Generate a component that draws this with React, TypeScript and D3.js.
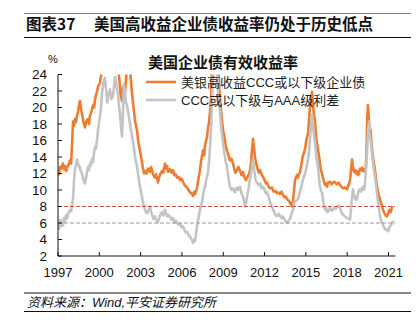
import React from "react";
import * as d3 from "d3";

const yearTicks = [1997, 2000, 2003, 2006, 2009, 2012, 2015, 2018, 2021];
const valueTicks = [2, 4, 6, 8, 10, 12, 14, 16, 18, 20, 22, 24];
const seriesNames = ["美银高收益CCC或以下级企业债", "CCC或以下级与AAA级利差"];
const refLevels = [8, 6];

const cccDates = [1997.00,1997.08,1997.15,1997.25,1997.36,1997.45,1997.51,1997.60,1997.65,1997.75,1997.87,1997.95,1998.02,1998.09,1998.16,1998.23,1998.30,1998.38,1998.47,1998.55,1998.60,1998.67,1998.74,1998.85,1998.96,1999.05,1999.18,1999.25,1999.32,1999.40,1999.47,1999.55,1999.62,1999.69,1999.76,1999.83,1999.92,2000.05,2000.12,2000.20,2000.41,2000.63,2000.78,2000.99,2001.14,2001.25,2001.36,2001.45,2001.55,2001.65,2001.72,2001.79,2001.88,2001.94,2002.02,2002.10,2002.23,2002.30,2002.37,2002.45,2002.52,2002.60,2002.67,2002.74,2002.85,2002.95,2003.06,2003.17,2003.25,2003.32,2003.43,2003.54,2003.62,2003.68,2003.76,2003.83,2003.92,2004.04,2004.12,2004.26,2004.35,2004.45,2004.55,2004.65,2004.77,2004.85,2004.92,2004.99,2005.13,2005.25,2005.35,2005.45,2005.55,2005.64,2005.75,2005.86,2005.97,2006.08,2006.20,2006.37,2006.48,2006.59,2006.70,2006.80,2006.90,2006.95,2007.09,2007.20,2007.31,2007.40,2007.53,2007.62,2007.68,2007.82,2007.89,2007.97,2008.04,2008.12,2008.18,2008.30,2008.45,2008.58,2008.66,2008.72,2008.80,2008.90,2008.98,2009.08,2009.18,2009.27,2009.38,2009.49,2009.60,2009.71,2009.80,2009.88,2010.00,2010.10,2010.22,2010.32,2010.43,2010.52,2010.58,2010.66,2010.73,2010.85,2010.94,2011.03,2011.10,2011.16,2011.24,2011.32,2011.40,2011.45,2011.58,2011.67,2011.78,2011.89,2012.00,2012.10,2012.18,2012.30,2012.40,2012.54,2012.65,2012.78,2012.90,2013.02,2013.12,2013.23,2013.34,2013.45,2013.54,2013.63,2013.75,2013.85,2013.93,2013.99,2014.07,2014.14,2014.21,2014.30,2014.36,2014.43,2014.50,2014.57,2014.66,2014.79,2014.87,2014.94,2015.05,2015.16,2015.25,2015.35,2015.45,2015.52,2015.60,2015.66,2015.76,2015.88,2015.98,2016.08,2016.17,2016.28,2016.39,2016.47,2016.54,2016.61,2016.75,2016.87,2016.97,2017.08,2017.18,2017.26,2017.38,2017.48,2017.58,2017.70,2017.84,2017.99,2018.10,2018.21,2018.30,2018.35,2018.42,2018.50,2018.57,2018.64,2018.71,2018.79,2018.86,2018.93,2019.00,2019.08,2019.15,2019.22,2019.29,2019.35,2019.40,2019.45,2019.51,2019.56,2019.62,2019.70,2019.80,2019.90,2020.02,2020.12,2020.24,2020.35,2020.45,2020.53,2020.60,2020.70,2020.80,2020.89,2020.98,2021.06,2021.15,2021.25,2021.33];
const cccYield = [12.4,11.9,12.8,12.6,13.2,12.5,12.9,12.3,12.7,13.0,13.6,13.2,15.5,18.3,17.8,18.6,18.2,19.0,19.6,20.5,20.8,19.8,19.3,18.2,17.6,18.3,18.6,18.0,19.0,19.3,19.8,20.3,20.0,21.0,21.5,21.9,22.6,23.0,23.8,25.0,26.5,27.0,26.0,25.5,24.6,24.3,24.8,23.5,21.5,20.8,22.5,21.2,22.0,23.5,24.8,25.5,24.6,23.2,21.8,20.5,19.6,18.3,17.8,17.2,15.6,14.8,13.8,12.6,12.0,12.3,12.0,12.6,12.4,12.2,12.8,12.4,11.8,11.5,11.9,10.9,11.6,12.0,12.3,12.1,13.2,12.6,12.9,12.2,12.5,12.1,12.4,11.8,11.9,11.5,11.6,11.2,11.4,11.0,10.6,10.3,10.0,9.7,9.6,9.3,9.8,9.5,10.2,11.4,12.4,13.6,14.8,14.2,15.5,16.4,17.5,18.2,19.5,21.5,24.5,30.0,32.0,28.0,24.5,22.0,20.3,18.5,17.3,16.5,15.4,14.8,14.2,13.6,13.8,13.2,12.6,12.1,12.4,12.8,12.3,11.8,12.2,11.6,11.4,11.2,11.5,11.9,12.3,13.6,15.0,16.2,15.0,13.8,13.2,12.8,12.1,12.4,11.9,11.6,11.2,10.8,10.9,10.4,10.2,10.3,9.8,9.9,9.6,9.7,9.5,9.8,9.4,9.1,9.2,8.9,8.7,8.5,8.2,8.0,8.7,10.0,11.2,11.6,11.8,11.5,12.0,12.1,13.0,14.2,14.5,15.0,16.2,16.9,19.0,21.0,21.9,20.2,19.0,18.5,16.2,14.9,13.8,12.5,12.0,11.2,10.6,10.8,10.4,10.9,11.0,10.7,10.9,11.0,10.8,10.7,10.9,10.6,10.4,10.2,10.3,10.1,10.6,11.2,12.8,13.7,12.8,12.2,12.4,12.0,12.3,11.8,12.0,12.6,12.4,12.7,12.3,12.5,12.2,12.6,14.5,18.5,20.3,19.0,17.6,17.2,15.0,13.7,12.4,10.9,9.8,9.0,8.5,8.0,7.6,7.2,6.9,6.8,7.2,7.6,7.3,7.9,8.0];

const spreadDates = [1997.00,1997.08,1997.15,1997.22,1997.30,1997.36,1997.45,1997.51,1997.60,1997.68,1997.75,1997.87,1997.95,1998.02,1998.09,1998.16,1998.23,1998.30,1998.38,1998.45,1998.55,1998.64,1998.74,1998.85,1998.96,1999.05,1999.18,1999.25,1999.32,1999.40,1999.47,1999.55,1999.62,1999.69,1999.76,1999.83,1999.92,2000.05,2000.12,2000.20,2000.30,2000.41,2000.50,2000.58,2000.66,2000.78,2000.88,2000.99,2001.07,2001.14,2001.22,2001.30,2001.36,2001.44,2001.50,2001.58,2001.65,2001.72,2001.79,2001.86,2001.94,2002.02,2002.10,2002.23,2002.30,2002.37,2002.45,2002.52,2002.60,2002.67,2002.74,2002.85,2002.95,2003.06,2003.17,2003.25,2003.32,2003.43,2003.54,2003.62,2003.68,2003.76,2003.83,2003.92,2004.04,2004.12,2004.26,2004.35,2004.45,2004.55,2004.65,2004.77,2004.85,2004.92,2004.99,2005.13,2005.25,2005.35,2005.45,2005.55,2005.64,2005.75,2005.86,2005.97,2006.08,2006.20,2006.30,2006.40,2006.48,2006.59,2006.68,2006.75,2006.80,2006.88,2006.95,2007.02,2007.09,2007.20,2007.31,2007.40,2007.47,2007.53,2007.60,2007.68,2007.75,2007.82,2007.89,2007.97,2008.04,2008.12,2008.18,2008.26,2008.35,2008.45,2008.55,2008.62,2008.70,2008.76,2008.85,2008.98,2009.08,2009.18,2009.27,2009.38,2009.49,2009.60,2009.71,2009.85,2009.93,2010.00,2010.10,2010.22,2010.32,2010.43,2010.52,2010.58,2010.66,2010.73,2010.85,2010.94,2011.05,2011.16,2011.25,2011.35,2011.45,2011.58,2011.67,2011.78,2011.89,2012.00,2012.10,2012.18,2012.30,2012.40,2012.54,2012.65,2012.78,2012.90,2013.02,2013.12,2013.23,2013.34,2013.45,2013.54,2013.63,2013.75,2013.85,2013.93,2013.99,2014.07,2014.14,2014.21,2014.30,2014.43,2014.57,2014.66,2014.79,2014.94,2015.05,2015.16,2015.25,2015.35,2015.45,2015.52,2015.60,2015.66,2015.76,2015.88,2015.98,2016.08,2016.17,2016.28,2016.39,2016.47,2016.54,2016.61,2016.75,2016.87,2016.97,2017.08,2017.18,2017.26,2017.38,2017.48,2017.58,2017.70,2017.84,2017.99,2018.10,2018.21,2018.30,2018.42,2018.50,2018.57,2018.64,2018.71,2018.79,2018.86,2018.93,2019.00,2019.08,2019.15,2019.22,2019.29,2019.36,2019.44,2019.51,2019.58,2019.65,2019.72,2019.80,2019.90,2020.02,2020.12,2020.24,2020.35,2020.45,2020.53,2020.60,2020.70,2020.80,2020.89,2020.98,2021.06,2021.11,2021.20,2021.28,2021.33];
const spreadValues = [6.0,5.3,6.4,5.6,6.3,5.7,6.6,6.2,7.0,6.6,7.2,7.6,7.4,8.2,8.9,11.0,12.6,12.9,13.7,13.2,12.9,12.3,12.0,11.2,10.8,11.6,12.8,12.4,13.2,13.0,13.8,13.4,14.6,15.2,15.0,16.0,17.5,18.9,20.0,21.8,23.0,23.6,22.0,20.6,21.5,22.2,21.0,21.4,22.6,23.7,23.0,22.0,21.5,20.0,19.2,17.6,16.5,19.5,22.8,22.0,20.6,20.2,19.4,18.0,17.2,16.6,15.8,15.0,14.0,13.4,12.8,11.5,10.4,9.5,8.5,8.0,7.6,7.2,7.3,7.8,8.0,7.4,7.0,6.5,6.8,6.4,6.1,6.6,7.1,7.3,6.9,7.6,7.2,6.8,7.0,6.8,6.4,6.6,6.1,6.3,6.0,5.8,5.9,5.5,5.6,5.1,4.8,4.9,4.5,4.4,4.0,3.9,3.6,4.0,3.8,4.6,5.6,6.6,7.6,8.2,8.6,9.4,10.0,10.4,11.2,11.6,12.1,13.5,15.2,17.7,20.5,24.0,27.0,28.0,25.0,22.0,20.5,19.6,17.6,15.8,14.5,13.4,12.8,11.5,10.4,10.0,10.2,9.7,10.1,10.3,10.0,10.4,9.6,9.2,8.6,8.0,8.4,9.2,10.2,11.3,12.4,13.7,12.4,11.2,10.9,10.6,10.8,10.2,10.4,10.0,9.6,9.7,9.2,8.5,8.0,7.5,7.0,6.8,7.1,6.9,6.6,6.8,6.4,6.2,6.0,6.3,6.5,7.0,7.3,7.6,8.4,8.6,8.7,8.9,9.8,10.4,11.3,12.0,12.8,13.7,15.0,17.2,19.2,17.8,16.5,15.8,14.0,12.8,11.0,10.0,9.7,8.4,7.6,7.8,7.3,7.4,7.8,7.5,7.6,7.9,7.7,8.0,8.1,7.8,7.3,7.0,6.8,6.6,6.5,6.4,8.2,10.1,9.4,9.0,8.8,8.9,9.6,10.0,10.1,9.8,10.2,10.4,10.0,10.6,12.5,14.5,17.0,18.3,16.5,15.8,14.5,13.0,11.6,10.2,8.5,7.2,6.4,6.0,5.8,5.4,5.2,5.3,5.0,5.4,5.6,5.8,6.0,6.3];

const W = 419;
const H = 332;
const FONT = "'Liberation Sans', Arial, 'Noto Sans CJK SC', sans-serif";
const CJK = "'Noto Sans CJK SC', 'Liberation Sans', sans-serif";
const ORANGE = "#EE7D31";
const GRAY = "#C4C4C4";

export default function App() {
  const x = d3.scaleLinear().domain([1997, 2021]).range([58, 388.5]);
  const y = d3.scaleLinear().domain([2, 24]).range([256, 74.5]);
  const xEnd = x(2021.35);

  const line = d3
    .line<[number, number]>()
    .x((d) => x(d[0]))
    .y((d) => y(d[1]));

  const cccPts = cccDates.map((d, i) => [d, cccYield[i]] as [number, number]);
  const spreadPts = spreadDates.map((d, i) => [d, spreadValues[i]] as [number, number]);

  return (
    <svg
      width={W}
      height={H}
      style={{ position: "absolute", left: 0, top: 0, background: "#fff" }}
      fontFamily={FONT}
    >
      <defs>
        <clipPath id="plotClip">
          <rect x={x(1997)} y={y(24)} width={xEnd - x(1997) + 3} height={y(2) - y(24)} />
        </clipPath>
      </defs>
      <rect width={W} height={H} fill="#fff" />

      {/* header */}
      <line x1={24} x2={411} y1={13.5} y2={13.5} stroke="#555" strokeWidth={0.8} />
      <text x={26} y={30} fontFamily={CJK} fontWeight="bold" fontSize={15.5} fill="#111">
        图表37
      </text>
      <text x={94} y={30} fontFamily={CJK} fontWeight="bold" fontSize={15.5} fill="#111">
        美国高收益企业债收益率仍处于历史低点
      </text>
      <line x1={24} x2={411} y1={37.5} y2={37.5} stroke="#111" strokeWidth={1.2} />

      {/* chart title */}
      <text x={223} y={68} textAnchor="middle" fontFamily={CJK} fontWeight="bold" fontSize={15} fill="#111">
        美国企业债有效收益率
      </text>
      <text x={53} y={63} textAnchor="middle" fontSize={11} fill="#111">
        %
      </text>

      {/* lines */}
      <g clipPath="url(#plotClip)">
        <path d={line(cccPts) || ""} fill="none" stroke={ORANGE} strokeWidth={2.6} strokeLinejoin="round" />
        <path d={line(spreadPts) || ""} fill="none" stroke={GRAY} strokeWidth={2.6} strokeLinejoin="round" />
      </g>

      {/* reference dashed lines */}
      <line x1={x(1997)} x2={xEnd + 2} y1={y(refLevels[0])} y2={y(refLevels[0])} stroke="#C8504A" strokeWidth={1} strokeDasharray="4,2" />
      <line x1={x(1997)} x2={xEnd + 2} y1={y(refLevels[1])} y2={y(refLevels[1])} stroke="#9A9A9A" strokeWidth={1} strokeDasharray="4,2" />

      {/* axes */}
      <line x1={x(1997)} x2={x(1997)} y1={y(24)} y2={y(2)} stroke="#111" strokeWidth={1} />
      <line x1={x(1997)} x2={xEnd + 2} y1={y(2)} y2={y(2)} stroke="#111" strokeWidth={1} />
      {valueTicks.map((v) => (
        <g key={v}>
          <line x1={x(1997)} x2={x(1997) + 4} y1={y(v)} y2={y(v)} stroke="#111" />
          <text x={47} y={y(v)} dy="0.36em" textAnchor="end" fontSize={13.5} fill="#111">
            {v}
          </text>
        </g>
      ))}
      {yearTicks.map((t) => (
        <g key={t}>
          <line x1={x(t)} x2={x(t)} y1={y(2)} y2={y(2) - 4} stroke="#111" />
          <text x={x(t)} y={277} textAnchor="middle" fontSize={13} fill="#111">
            {t}
          </text>
        </g>
      ))}

      {/* legend */}
      <line x1={146} x2={176} y1={82} y2={82} stroke={ORANGE} strokeWidth={2.6} />
      <text x={181} y={82} dy="0.36em" fontSize={13} fill="#222" fontFamily={FONT}>
        {seriesNames[0]}
      </text>
      <line x1={146} x2={176} y1={100} y2={100} stroke={GRAY} strokeWidth={2.6} />
      <text x={181} y={100} dy="0.36em" fontSize={13} fill="#222" fontFamily={FONT}>
        {seriesNames[1]}
      </text>

      {/* footer */}
      <line x1={24} x2={411} y1={293} y2={293} stroke="#111" strokeWidth={1} />
      <text x={27} y={307} fontSize={13} fontStyle="italic" fill="#111" fontFamily={FONT}>
        资料来源：Wind,平安证券研究所
      </text>
      <line x1={24} x2={411} y1={311.5} y2={311.5} stroke="#111" strokeWidth={1} />
    </svg>
  );
}
